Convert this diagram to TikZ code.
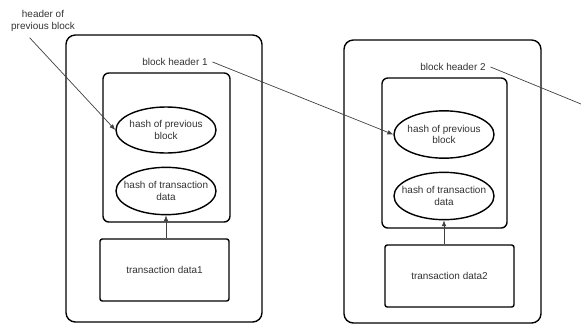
\documentclass[tikz,border=0pt]{standalone}
\usepackage{fontspec}
\setmainfont{Liberation Sans}
\usetikzlibrary{shapes.geometric,arrows.meta}

\begin{document}
\begin{tikzpicture}[x=0.03cm,y=-0.03cm,
  font=\fontsize{8.5}{10}\selectfont,
  lbl/.style={text=black!80,inner sep=0pt,align=center},
  box/.style={draw,line width=1.2pt},
  oval/.style={ellipse,draw,line width=1.2pt,text=black!80,align=center,
    inner xsep=-6pt,inner ysep=0pt,minimum width=3cm,minimum height=1.42cm},
  arr/.style={-{Latex[length=5pt,width=4pt]},black!75,line width=0.6pt}]
 \useasboundingbox (0,0) rectangle (581,324);

 \node (hdr) at (43,21) [lbl] {header of\\previous block};

 \node (b1) at (164,178.5) [box,rounded corners=8pt,minimum width=5.88cm,minimum height=8.61cm] {};
 \node (bh1) at (175,62) [lbl] {block header 1};
 \node (in1) at (166.5,147.5) [box,rounded corners=5pt,minimum width=3.81cm,minimum height=4.47cm] {};
 \node (hp1) at (166,130) [oval,minimum height=1.38cm] {hash of previous\\block};
 \node (ht1) at (166,191) [oval] {hash of transaction\\data};
 \node (td1) at (164.5,270) [box,rounded corners=2pt,text=black!80,minimum width=3.87cm,minimum height=1.86cm] {transaction data1};

 \node (b2) at (442.5,181.5) [box,rounded corners=8pt,minimum width=5.91cm,minimum height=8.49cm] {};
 \node (bh2) at (453,67) [lbl] {block header 2};
 \node (in2) at (444.5,153) [box,rounded corners=5pt,minimum width=3.75cm,minimum height=4.5cm] {};
 \node (hp2) at (444,134.5) [oval] {hash of previous\\block};
 \node (ht2) at (444,196) [oval] {hash of transaction\\data};
 \node (td2) at (449.5,276) [box,rounded corners=2pt,text=black!80,minimum width=3.87cm,minimum height=1.86cm] {transaction data2};
 \coordinate (nxt) at (581,104);

 \draw[arr] ([shift={(-0.4cm,-0.18cm)}]hdr.south) -- (hp1.west);
 \draw[arr] ([xshift=4pt]bh1.east) -- (hp2.west);
 \draw[black!75,line width=0.6pt] ([xshift=4pt]bh2.east) -- (nxt);
 \draw[arr] (ht1.south |- td1.north) -- (ht1.south);
 \draw[arr] (ht2.south |- td2.north) -- (ht2.south);
\end{tikzpicture}
\end{document}
